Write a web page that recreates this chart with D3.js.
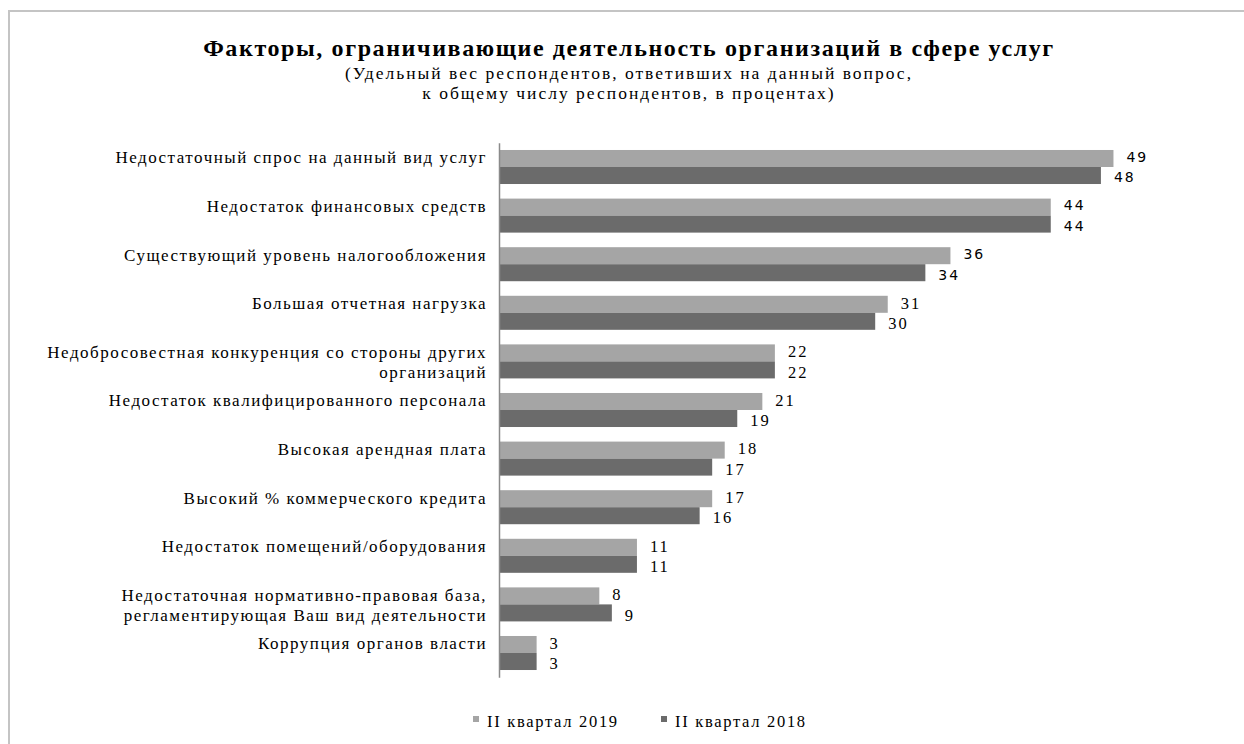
<!DOCTYPE html>
<html>
<head>
<meta charset="utf-8">
<script src="https://cdn.jsdelivr.net/npm/d3@7/dist/d3.min.js"></script>
<style>
  html, body { margin: 0; padding: 0; background: #fff; }
  svg { display: block; }
</style>
</head>
<body>
<script>
// Factors limiting the activity of service-sector organisations, Q2 2019 vs Q2 2018
const categories = [
  ["Недостаточный спрос на данный вид услуг"],
  ["Недостаток финансовых средств"],
  ["Существующий уровень налогообложения"],
  ["Большая отчетная нагрузка"],
  ["Недобросовестная конкуренция со стороны других", "организаций"],
  ["Недостаток квалифицированного персонала"],
  ["Высокая арендная плата"],
  ["Высокий % коммерческого кредита"],
  ["Недостаток помещений/оборудования"],
  ["Недостаточная нормативно-правовая база,", "регламентирующая Ваш вид деятельности"],
  ["Коррупция органов власти"]
];
const values2019 = [49, 44, 36, 31, 22, 21, 18, 17, 11, 8, 3];
const values2018 = [48, 44, 34, 30, 22, 19, 17, 16, 11, 9, 3];
const seriesNames = ["II квартал 2019", "II квартал 2018"];
const titleText = "Факторы, ограничивающие деятельность организаций в сфере услуг";
const subtitleLines = [
  "(Удельный вес респондентов, ответивших на данный вопрос,",
  "к общему числу респондентов, в процентах)"
];

const W = 1244, H = 744;
const colors = ["#a5a5a5", "#6b6b6b"];
const serif = "'Liberation Serif', 'Times New Roman', serif";
const sans = "'DejaVu Sans', Verdana, sans-serif";

const svg = d3.select("body").append("svg")
  .attr("width", W).attr("height", H);

// outer frame
svg.append("rect")
  .attr("x", 9).attr("y", 11).attr("width", 1300).attr("height", 800)
  .attr("fill", "none").attr("stroke", "#c4c4c4").attr("stroke-width", 2);

// titles
svg.append("text")
  .attr("x", 629).attr("y", 56)
  .attr("text-anchor", "middle")
  .attr("font-family", serif).attr("font-weight", "bold")
  .attr("font-size", 24).attr("letter-spacing", 1.6)
  .attr("fill", "#000")
  .text(titleText);

svg.selectAll("text.sub").data(subtitleLines).join("text")
  .attr("class", "sub")
  .attr("x", 629).attr("y", (d, i) => 79 + i * 20)
  .attr("text-anchor", "middle")
  .attr("font-family", serif).attr("font-size", 17.5)
  .attr("letter-spacing", 2)
  .attr("fill", "#000")
  .text(d => d);

// scales
const idx = d3.range(categories.length);
const y = d3.scaleBand().domain(idx).range([142.7, 677.3])
  .paddingInner(0.3).paddingOuter(0.15);
const x = d3.scaleLinear().domain([0, 50]).range([499, 1126]);
const sub = d3.scaleBand().domain([0, 1]).range([0, y.bandwidth()]);

const series = [values2019, values2018];

// bars
series.forEach((vals, s) => {
  svg.append("g").selectAll("rect").data(vals).join("rect")
    .attr("x", x(0))
    .attr("y", (d, i) => y(i) + sub(s))
    .attr("width", d => x(d) - x(0))
    .attr("height", sub.bandwidth())
    .attr("fill", colors[s]);
});

// category axis
const axis = svg.append("g")
  .attr("transform", `translate(${x(0)},0)`)
  .call(d3.axisLeft(y).tickSize(0).tickSizeOuter(0).tickPadding(12).tickFormat(""));
axis.select(".domain").attr("stroke", "#8a8a8a").attr("stroke-width", 1.5);

axis.selectAll(".tick text")
  .attr("font-family", serif).attr("font-size", 17)
  .attr("letter-spacing", 1.5)
  .attr("fill", "#000")
  .each(function(i) {
    const t = d3.select(this);
    t.attr("y", -9);
    categories[i].forEach((line, k) => {
      t.append("tspan")
        .attr("x", -12)
        .attr("dy", k === 0 ? "0.32em" : 20)
        .text(line);
    });
  });

// value labels: the three longest rows are set in the sans face
series.forEach((vals, s) => {
  svg.append("g").selectAll("text").data(vals).join("text")
    .attr("x", d => x(d) + 13)
    .attr("y", (d, i) => y(i) + sub(s) + sub.bandwidth() / 2 + (s === 0 ? -1.5 : 2))
    .attr("dy", "0.35em")
    .attr("font-family", (d, i) => i < 3 ? sans : serif)
    .attr("font-size", (d, i) => i < 3 ? 14 : 16.5)
    .attr("letter-spacing", 2)
    .attr("fill", "#000")
    .text(d => d);
});

// legend
const legendX = [473, 661];
const legend = svg.append("g");
seriesNames.forEach((name, s) => {
  legend.append("rect")
    .attr("x", legendX[s]).attr("y", 716)
    .attr("width", 6).attr("height", 6)
    .attr("fill", colors[s]);
  legend.append("text")
    .attr("x", legendX[s] + 14).attr("y", 722)
    .attr("dy", "0.32em")
    .attr("font-family", serif).attr("font-size", 16.5)
    .attr("letter-spacing", 1.7)
    .attr("fill", "#000")
    .text(name);
});
</script>
</body>
</html>
